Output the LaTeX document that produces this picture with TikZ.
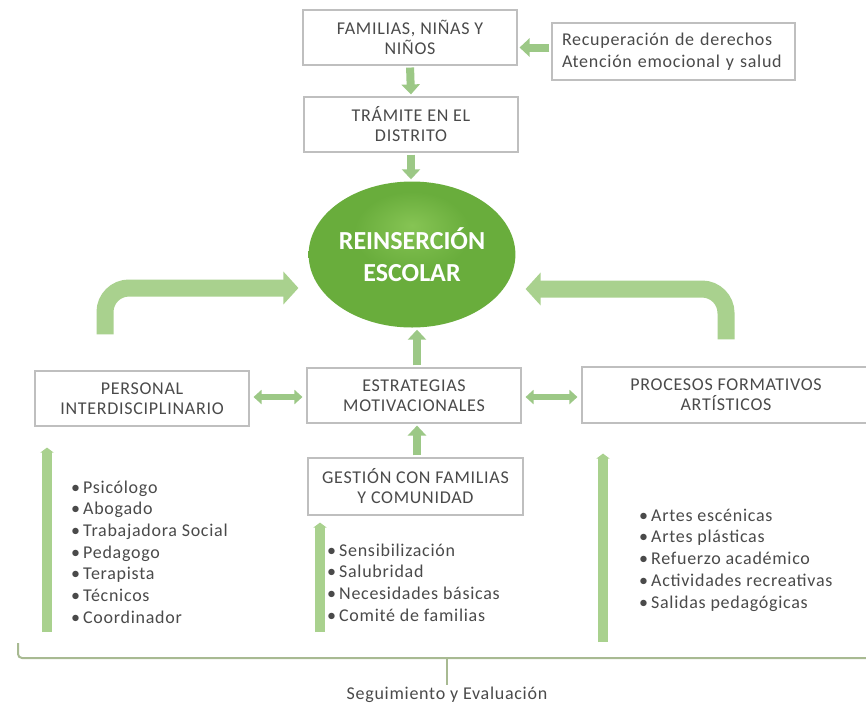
\documentclass[tikz,border=0pt]{standalone}
\usepackage{fontspec}
\setmainfont{Carlito}
\newfontfamily\spacedfont[LetterSpace=4]{Carlito}
\usetikzlibrary{arrows.meta,shapes.geometric,calc}
\definecolor{boxline}{HTML}{BFBFBF}
\definecolor{txt}{HTML}{4A4A4A}
\definecolor{agreen}{HTML}{A9D18E}
\definecolor{agreen2}{HTML}{9CC886}
\definecolor{bgreen}{HTML}{A8BA92}
\definecolor{ballin}{HTML}{86C454}
\definecolor{ballmid}{HTML}{69AD3C}
\definecolor{ballout}{HTML}{4E9228}
\pgfdeclareradialshading{greenball}{\pgfpoint{0bp}{10bp}}{color(0bp)=(ballin); color(14bp)=(ballmid); color(40bp)=(ballmid); color(56bp)=(ballout)}
\tikzset{
  box/.style={draw=boxline, line width=1.1pt, fill=white, minimum width=214pt,
    minimum height=55pt, align=center, font=\spacedfont\fontsize{18}{20}\selectfont,
    text=txt, inner sep=2pt},
  smallarrow/.style={draw=agreen2, line width=8pt, shorten <=2pt, shorten >=2pt,
    -{Triangle[length=10pt,width=18pt]}},
  duoarrow/.style={draw=agreen2, line width=6.5pt, shorten <=4pt, shorten >=4pt,
    {Triangle[length=8pt,width=14pt]}-{Triangle[length=8pt,width=14pt]}},
  bigarrow/.style={draw=agreen, line width=17pt, rounded corners=24pt,
    -{Triangle[length=15pt,width=32pt]}},
  longarrow/.style={draw=agreen, line width=10pt, -{Triangle[length=5pt,width=13pt]}},
  listtxt/.style={align=left, font=\spacedfont\fontsize{18}{21.7}\selectfont, text=txt, inner sep=0pt},
  bracketline/.style={draw=bgreen, line width=2pt, rounded corners=4pt}
}
\begin{document}
\begin{tikzpicture}[x=1pt,y=1pt]
\useasboundingbox (0,0) rectangle (866,-710);
\fill[white] (0,0) rectangle (866,-710);

% boxes
\node[box] (fam) at (410,-37.5) {FAMILIAS, NIÑAS Y\\NIÑOS};
\node[box, minimum width=243pt, minimum height=57pt, align=left, text width=223pt,
      font=\spacedfont\fontsize{18}{22}\selectfont] (recu) at (673.5,-51.5)
      {Recuperación de derechos\\Atención emocional y salud};
\node[box] (tram) at (411,-124.5) {TRÁMITE EN EL\\DISTRITO};
\node[ellipse, minimum width=200pt, minimum height=146pt, shading=greenball,
      inner sep=0pt, text=white, font=\bfseries\fontsize{26}{32}\selectfont,
      align=center] (reins) at (412,-254.5) {REINSERCIÓN\\ESCOLAR};
\node[box] (pers) at (142,-398.5) {PERSONAL\\INTERDISCIPLINARIO};
\node[box] (estr) at (414,-395.5) {ESTRATEGIAS\\MOTIVACIONALES};
\node[box, minimum width=288pt, minimum height=56pt] (proc) at (726,-395)
      {PROCESOS FORMATIVOS\\ARTÍSTICOS};
\node[box, minimum width=215pt, minimum height=57pt] (gest) at (415.5,-486.5)
      {GESTIÓN CON FAMILIAS\\Y COMUNIDAD};

% lists
\node[listtxt, anchor=west] (l1) at (71,-552)
  {•\,Psicólogo\\•\,Abogado\\•\,Trabajadora Social\\•\,Pedagogo\\•\,Terapista\\•\,Técnicos\\•\,Coordinador};
\node[listtxt, anchor=west] (l2) at (327,-582.5)
  {•\,Sensibilización\\•\,Salubridad\\•\,Necesidades básicas\\•\,Comité de familias};
\node[listtxt, anchor=west] (l3) at (639,-560)
  {•\,Artes escénicas\\•\,Artes plásticas\\•\,Refuerzo académico\\•\,Actividades recreativas\\•\,Salidas pedagógicas};

% small arrows
\draw[smallarrow] (fam.south) -- (tram.north);
\draw[smallarrow] (tram.south) -- (tram.south |- reins.north);
\draw[smallarrow] ([yshift=4pt]recu.west) -- ([yshift=4pt]recu.west -| fam.east);
\draw[smallarrow] ([xshift=3pt]estr.north) -- ([xshift=3pt]estr.north |- reins.south);
\draw[smallarrow] ([xshift=1.5pt]gest.north) -- ([xshift=1.5pt]gest.north |- estr.south);
\draw[duoarrow] ([yshift=1.5pt]pers.east) -- ([yshift=1.5pt]pers.east -| estr.west);
\draw[duoarrow] ([yshift=-1.5pt]estr.east) -- ([yshift=-1.5pt]estr.east -| proc.west);

% big bent arrows
\draw[bigarrow] ([xshift=-37pt,yshift=36pt]pers.north) |- ([xshift=-10pt,yshift=-33.5pt]reins.west);
\draw[bigarrow] ([yshift=27pt]proc.north) |- ([xshift=10pt,yshift=-34.5pt]reins.east);

% long up arrows
\coordinate (a1) at (47,-632);
\coordinate (a2) at (320,-632);
\coordinate (a3) at (603,-642);
\draw[longarrow, shorten >=21pt] (a1) -- (a1 |- pers.south);
\draw[longarrow, shorten >=7pt] (a2) -- (a2 |- gest.south);
\draw[longarrow, shorten >=30pt] (a3) -- (a3 |- proc.south);

% bracket
\node[font=\spacedfont\fontsize{18}{20}\selectfont, text=txt, inner sep=2pt] (seg) at (447,-695)
  {Seguimiento y Evaluación};
\coordinate (bl) at (18,-643);
\coordinate (br) at (868,-658);
\draw[bracketline] (bl) |- (br);
\draw[bracketline] (seg.north |- br) -- (seg.north);
\end{tikzpicture}
\end{document}
